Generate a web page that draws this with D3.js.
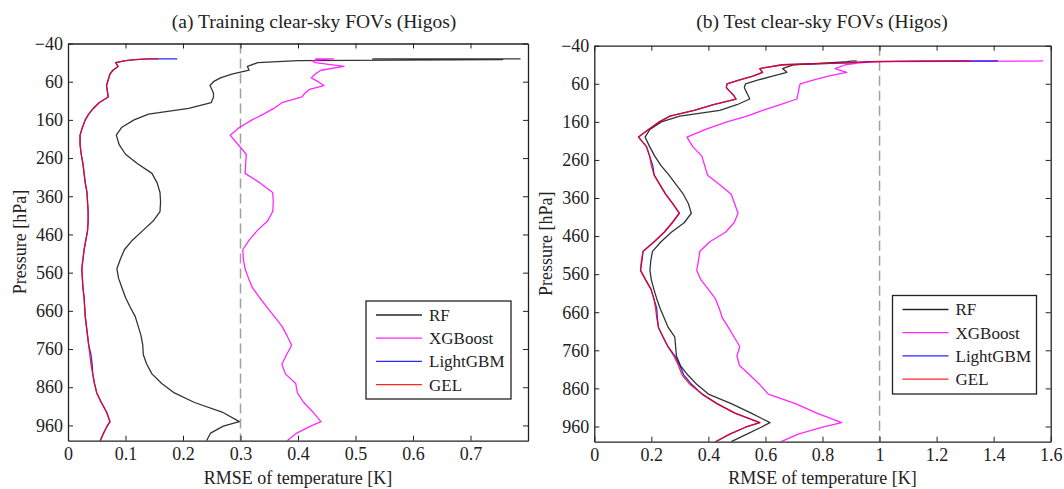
<!DOCTYPE html>
<html>
<head>
<meta charset="utf-8">
<script src="https://cdn.jsdelivr.net/npm/d3@7"></script>
<style>
  html, body { margin: 0; padding: 0; background: #fff; }
  svg { display: block; font-family: "Liberation Serif", "Times New Roman", serif; }
</style>
</head>
<body>
<svg id="chart" width="1064" height="489"></svg>
<script>
// Pressure levels [hPa] at which the RMSE profiles are given
const levels = [0.005, 0.5, 2, 5, 10, 20, 30, 40, 50, 60, 70, 80, 90, 100, 115, 130, 145, 160, 180, 200,
  225, 250, 275, 300, 325, 350, 375, 400, 425, 450, 475, 500, 525, 550, 575, 600, 625, 650, 675, 700,
  725, 750, 775, 800, 825, 850, 875, 900, 925, 950, 962, 980, 1000];

// (a) training set RMSE [K]
const trainRF = [0.787, 0.53, 0.756, 0.40, 0.33, 0.312, 0.315, 0.285, 0.265, 0.253, 0.247, 0.25, 0.253, 0.253,
  0.249, 0.21, 0.14, 0.115, 0.093, 0.084,
  0.089, 0.100, 0.121, 0.146, 0.155, 0.160, 0.161, 0.160, 0.148, 0.13,
  0.112, 0.098, 0.091, 0.085, 0.088, 0.094, 0.100, 0.108, 0.117, 0.122,
  0.127, 0.130, 0.131, 0.137, 0.146, 0.163, 0.185, 0.220, 0.268, 0.298,
  0.270, 0.248, 0.241];
const trainXGB = [0.43, 0.462, 0.44, 0.425, 0.43, 0.48, 0.44, 0.43, 0.423, 0.435, 0.445, 0.42, 0.412, 0.407,
  0.372, 0.358, 0.34, 0.32, 0.298, 0.282,
  0.296, 0.31, 0.309, 0.308, 0.334, 0.356, 0.357, 0.356, 0.347, 0.329,
  0.315, 0.304, 0.305, 0.308, 0.314, 0.321, 0.333, 0.346, 0.359, 0.372,
  0.381, 0.389, 0.380, 0.372, 0.378, 0.396, 0.399, 0.410, 0.426, 0.44,
  0.422, 0.398, 0.381];
const trainLGBM = [0.19, 0.14, 0.117, 0.10, 0.083, 0.087, 0.078, 0.073, 0.071, 0.069, 0.067, 0.068, 0.069, 0.070,
  0.054, 0.044, 0.036, 0.030, 0.025, 0.021,
  0.021, 0.023, 0.026, 0.028, 0.030, 0.033, 0.034, 0.035, 0.035, 0.034,
  0.031, 0.028, 0.026, 0.024, 0.025, 0.026, 0.028, 0.029, 0.030, 0.032,
  0.034, 0.036, 0.040, 0.042, 0.043, 0.046, 0.050, 0.058, 0.067, 0.073,
  0.068, 0.062, 0.056];
const trainGEL = [0.157, 0.14, 0.117, 0.10, 0.083, 0.087, 0.078, 0.073, 0.071, 0.069, 0.067, 0.068, 0.069, 0.070,
  0.054, 0.044, 0.036, 0.030, 0.025, 0.021,
  0.021, 0.023, 0.026, 0.028, 0.030, 0.033, 0.034, 0.035, 0.035, 0.034,
  0.031, 0.028, 0.026, 0.024, 0.025, 0.026, 0.028, 0.029, 0.030, 0.032,
  0.034, 0.036, 0.038, 0.040, 0.043, 0.046, 0.050, 0.058, 0.067, 0.073,
  0.068, 0.062, 0.056];

// (b) test set RMSE [K]
const testRF = [0.92, 0.9, 0.886, 0.82, 0.70, 0.66, 0.675, 0.625, 0.575, 0.53, 0.526, 0.532, 0.539, 0.545,
  0.50, 0.44, 0.30, 0.235, 0.195, 0.178,
  0.194, 0.212, 0.234, 0.262, 0.287, 0.312, 0.33, 0.34, 0.315, 0.27,
  0.234, 0.204, 0.198, 0.195, 0.2, 0.209, 0.219, 0.231, 0.245, 0.259,
  0.282, 0.285, 0.288, 0.302, 0.328, 0.36, 0.40, 0.48, 0.55, 0.616,
  0.585, 0.535, 0.48];
const testXGB = [1.573, 1.53, 1.0, 0.93, 0.88, 0.844, 0.885, 0.82, 0.77, 0.722, 0.718, 0.716, 0.713, 0.71,
  0.652, 0.59, 0.535, 0.465, 0.39, 0.325,
  0.345, 0.377, 0.387, 0.397, 0.44, 0.48, 0.492, 0.504, 0.49, 0.46,
  0.405, 0.37, 0.365, 0.359, 0.374, 0.40, 0.425, 0.438, 0.449, 0.47,
  0.49, 0.51, 0.50, 0.509, 0.545, 0.58, 0.61, 0.705, 0.78, 0.867,
  0.80, 0.715, 0.655];
const testLGBM = [1.415, 1.15, 0.966, 0.885, 0.66, 0.58, 0.59, 0.556, 0.51, 0.465, 0.463, 0.475, 0.488, 0.497,
  0.418, 0.35, 0.265, 0.228, 0.19, 0.155,
  0.183, 0.194, 0.205, 0.21, 0.23, 0.25, 0.275, 0.298, 0.273, 0.245,
  0.21, 0.171, 0.167, 0.162, 0.18, 0.199, 0.209, 0.219, 0.221, 0.225,
  0.241, 0.258, 0.283, 0.300, 0.314, 0.342, 0.378, 0.43, 0.493, 0.58,
  0.53, 0.475, 0.425];
const testGEL = [1.317, 1.15, 0.966, 0.885, 0.66, 0.58, 0.59, 0.556, 0.51, 0.465, 0.463, 0.475, 0.488, 0.497,
  0.418, 0.35, 0.265, 0.228, 0.19, 0.155,
  0.183, 0.194, 0.2, 0.21, 0.23, 0.25, 0.275, 0.298, 0.273, 0.245,
  0.21, 0.171, 0.165, 0.162, 0.18, 0.199, 0.209, 0.215, 0.219, 0.225,
  0.241, 0.258, 0.279, 0.295, 0.308, 0.336, 0.378, 0.43, 0.493, 0.58,
  0.53, 0.475, 0.425];

const modelNames = ["RF", "XGBoost", "LightGBM", "GEL"];
const modelColors = ["#000000", "#ff00ff", "#0000ff", "#ff0000"];

const pressureTicks = [-40, 60, 160, 260, 360, 460, 560, 660, 760, 860, 960];
const trainTicks = [0, 0.1, 0.2, 0.3, 0.4, 0.5, 0.6, 0.7];
const testTicks = [0, 0.2, 0.4, 0.6, 0.8, 1, 1.2, 1.4, 1.6];

const svg = d3.select("#chart");
const axisColor = "#222";

const panels = [
  {
    id: "train", title: "(a) Training clear-sky FOVs (Higos)", titleX: 314,
    left: 68, right: 528, top: 43.5, bottom: 440.7,
    xmax: 0.8, xticks: trainTicks, refLine: 0.3,
    series: [trainRF, trainXGB, trainLGBM, trainGEL],
    legend: { x: 366, y: 301, w: 145, h: 98 },
    ylabelX: 20
  },
  {
    id: "test", title: "(b) Test clear-sky FOVs (Higos)", titleX: 822,
    left: 594.3, right: 1050.7, top: 45.7, bottom: 441.7,
    xmax: 1.6, xticks: testTicks, refLine: 1,
    series: [testRF, testXGB, testLGBM, testGEL],
    legend: { x: 892.5, y: 295.5, w: 144, h: 98.5 },
    ylabelX: 546
  }
];

panels.forEach(P => {
  const x = d3.scaleLinear().domain([0, P.xmax]).range([P.left, P.right]);
  const y = d3.scaleLinear().domain([-40, 1000]).range([P.top, P.bottom]);
  const g = svg.append("g");

  g.append("clipPath").attr("id", "clip-" + P.id)
    .append("rect").attr("x", P.left).attr("y", P.top)
    .attr("width", P.right - P.left).attr("height", P.bottom - P.top);

  // reference dashed line
  g.append("line")
    .attr("x1", x(P.refLine)).attr("x2", x(P.refLine))
    .attr("y1", P.top).attr("y2", P.bottom)
    .attr("stroke", "#a0a0a0").attr("stroke-width", 1.5)
    .attr("stroke-dasharray", "10,5");

  // profiles
  const line = d3.line().x(d => x(d[1])).y(d => y(d[0]));
  const curves = g.append("g").attr("clip-path", `url(#clip-${P.id})`);
  P.series.forEach((vals, i) => {
    curves.append("path")
      .datum(levels.map((p, k) => [p, vals[k]]))
      .attr("d", line)
      .attr("fill", "none")
      .attr("stroke", modelColors[i])
      .attr("stroke-width", 1.3)
      .attr("stroke-linejoin", "round")
      .attr("stroke-opacity", i === 0 ? 0.8 : 0.85);
  });

  // axes (ticks point inward on all four sides)
  const styleAxis = sel => {
    sel.selectAll("path, line").attr("stroke", axisColor);
    sel.selectAll("text").attr("fill", axisColor)
      .style("font-family", "'Liberation Serif', serif").style("font-size", "18px");
  };
  g.append("g").attr("transform", `translate(0,${P.bottom})`)
    .call(d3.axisBottom(x).tickValues(P.xticks).tickFormat(d3.format("~g"))
      .tickSizeInner(-5).tickSizeOuter(0).tickPadding(7))
    .call(styleAxis);
  g.append("g").attr("transform", `translate(0,${P.top})`)
    .call(d3.axisTop(x).tickValues(P.xticks).tickFormat("")
      .tickSizeInner(-5).tickSizeOuter(0))
    .call(styleAxis);
  g.append("g").attr("transform", `translate(${P.left},0)`)
    .call(d3.axisLeft(y).tickValues(pressureTicks).tickFormat(d3.format("d"))
      .tickSizeInner(-5).tickSizeOuter(0).tickPadding(5))
    .call(styleAxis);
  g.append("g").attr("transform", `translate(${P.right},0)`)
    .call(d3.axisRight(y).tickValues(pressureTicks).tickFormat("")
      .tickSizeInner(-5).tickSizeOuter(0))
    .call(styleAxis);
  g.selectAll(".domain").attr("stroke-width", 1.3);

  // titles and axis labels
  g.append("text").attr("x", P.titleX).attr("y", 28)
    .attr("text-anchor", "middle").attr("fill", axisColor)
    .style("font-size", "19.5px").text(P.title);
  g.append("text").attr("x", (P.left + P.right) / 2).attr("y", 484)
    .attr("text-anchor", "middle").attr("fill", axisColor)
    .style("font-size", "18px").text("RMSE of temperature [K]");
  g.append("text")
    .attr("transform", `translate(${P.ylabelX + 6},${(P.top + P.bottom) / 2}) rotate(-90)`)
    .attr("text-anchor", "middle").attr("fill", axisColor)
    .style("font-size", "18px").text("Pressure [hPa]");

  // legend
  const L = P.legend;
  const lg = g.append("g");
  lg.append("rect").attr("x", L.x).attr("y", L.y).attr("width", L.w).attr("height", L.h)
    .attr("fill", "#fff").attr("stroke", axisColor).attr("stroke-width", 1.3);
  modelNames.forEach((name, i) => {
    const ry = L.y + 14 + i * 23.2;
    lg.append("line").attr("x1", L.x + 10).attr("x2", L.x + 56)
      .attr("y1", ry).attr("y2", ry).attr("stroke", modelColors[i]).attr("stroke-width", 1.3)
      .attr("stroke-opacity", 0.85);
    lg.append("text").attr("x", L.x + 63).attr("y", ry).attr("dy", "0.35em")
      .attr("fill", axisColor).style("font-size", "17px").text(name);
  });
});
</script>
</body>
</html>
